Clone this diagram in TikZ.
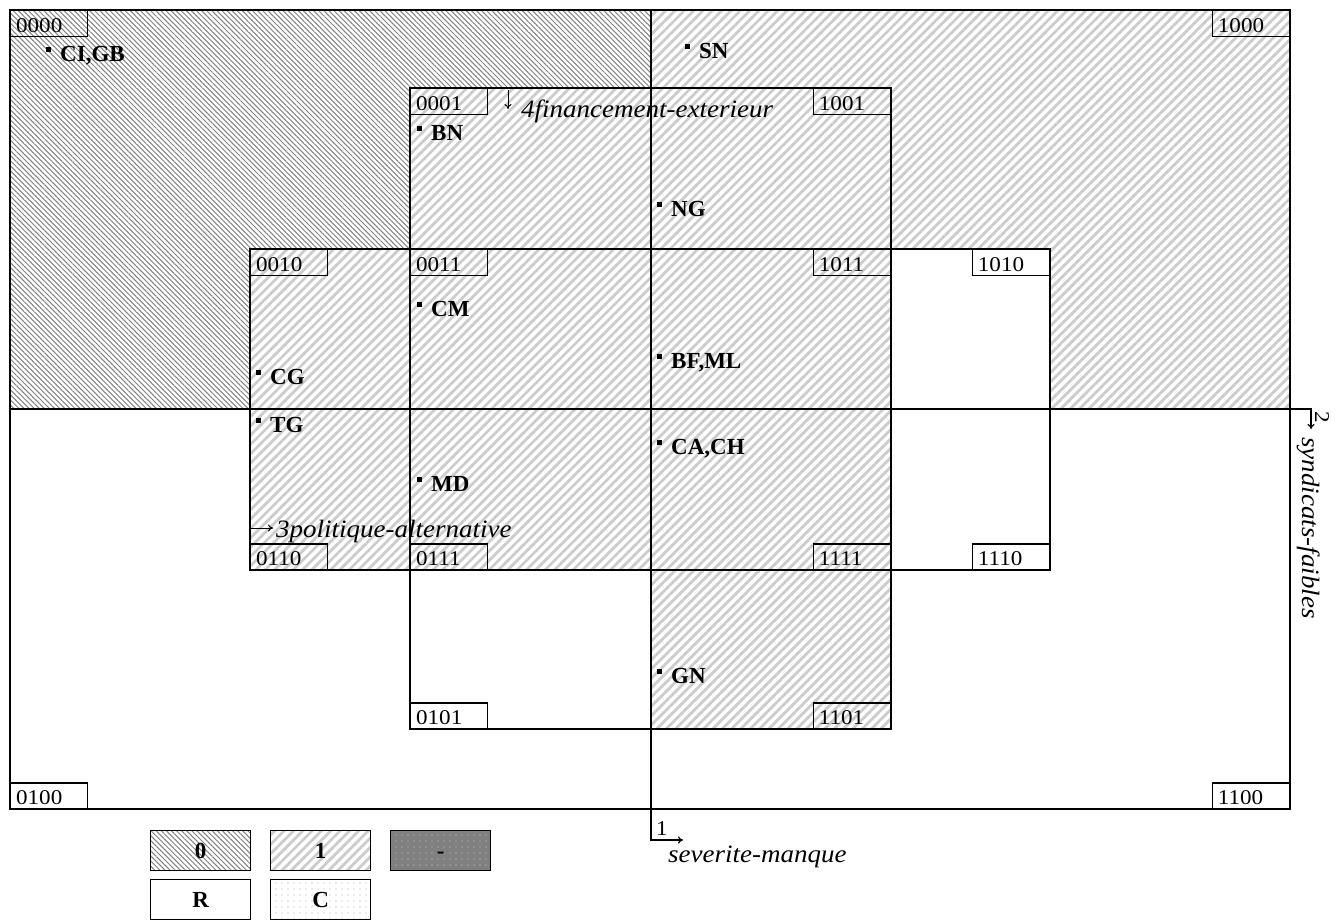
\documentclass[tikz,border=0pt]{standalone}
\usepackage{fontspec}
\setmainfont{Liberation Serif}
\newfontfamily\labfont{Liberation Serif}[FakeStretch=1.1]
\newfontfamily\itfont{Liberation Serif}[FakeStretch=1.08]
\usetikzlibrary{patterns.meta,arrows.meta}
\tikzset{
  edge/.style={line width=1.2pt, black},
  darkhatch/.style={pattern={Lines[angle=-45,distance=3.6pt,line width=1pt]}, pattern color=black!50},
  lighthatch/.style={pattern={Lines[angle=45,distance=6.6pt,line width=2.8pt]}, pattern color=black!20},
  cellbox/.style={draw, line width=1.2pt, minimum width=77pt, minimum height=25.5pt,
    text width=66pt, align=left, inner xsep=5pt, inner ysep=2.5pt,
    text height=19pt, text depth=1pt, font=\labfont\fontsize{21}{21}\selectfont},
  ptlabel/.style={anchor=base west, inner sep=0pt, font=\bfseries\fontsize{23}{23}\selectfont},
  axlabel/.style={anchor=base west, inner sep=0pt, font=\itfont\itshape\fontsize{25}{25}\selectfont},
  legbox/.style={draw, line width=1.2pt, minimum width=100pt, minimum height=40pt, inner sep=0pt,
    text height=15pt, text depth=0pt,
    anchor=north west, font=\bfseries\fontsize{23}{23}\selectfont},
  axarrow/.style={edge, -{To[length=5pt,width=7pt]}}
}
\newcommand{\bul}{\rule[9.5pt]{5pt}{5pt}\hspace{9pt}}
\begin{document}
\begin{tikzpicture}[x=1pt,y=-1pt]
\useasboundingbox (0,0) rectangle (1343,919);
% ---------- fills ----------
\fill[darkhatch] (10,10) -- (651,10) -- (651,88) -- (410,88) -- (410,249) -- (250,249) -- (250,409) -- (10,409) -- cycle;
\fill[lighthatch] (651,10) -- (1290,10) -- (1290,409) -- (1050,409) -- (1050,249) -- (891,249) -- (891,409) -- (651,409) -- cycle;
\fill[lighthatch] (410,88) -- (651,88) -- (651,409) -- (250,409) -- (250,249) -- (410,249) -- cycle;
\fill[lighthatch] (250,409) rectangle (651,570);
\fill[lighthatch] (651,409) rectangle (891,729);
% ---------- region outlines ----------
\draw[edge] (10,10) rectangle (1290,809);
\draw[edge] (250,249) rectangle (1050,570);
\draw[edge] (410,88) rectangle (891,729);
% ---------- axes ----------
\coordinate (v1) at (651,10);
\coordinate (v2) at (651,840);
\coordinate (v3) at (683,840);
\draw[axarrow] (v1) -- (v2) -- (v3);
\coordinate (h1) at (10,409);
\coordinate (h2) at (1311,409);
\coordinate (h3) at (1311,429);
\draw[axarrow] (h1) -- (h2) -- (h3);
\node[axlabel, font=\labfont\fontsize{21}{21}\selectfont] (ax1) at (656,835) {1};
\node[axlabel] (ax1t) at (668,862) {severite-manque};
\node[axlabel, rotate=-90, font=\labfont\fontsize{21}{21}\selectfont] (ax2) at (1315,411) {2};
\node[axlabel, rotate=-90] (ax2t) at (1302,437) {syndicats-faibles};
% variable 4 and 3 labels
\coordinate (a4s) at (508,90);
\coordinate (a4e) at (508,109);
\draw[axarrow, line width=1pt] (a4s) -- (a4e);
\node[axlabel] (ax4) at (521,117) {4financement-exterieur};
\coordinate (a3s) at (250,528);
\coordinate (a3e) at (273,528);
\draw[axarrow, line width=1pt] (a3s) -- (a3e);
\node[axlabel] (ax3) at (276,537) {3politique-alternative};
% ---------- cell id boxes ----------
\node[cellbox, anchor=north west] (c0000) at (10,10) {0000};
\node[cellbox, anchor=north east] (c1000) at (1290,10) {1000};
\node[cellbox, anchor=south west] (c0100) at (10,809) {0100};
\node[cellbox, anchor=south east] (c1100) at (1290,809) {1100};
\node[cellbox, anchor=north west] (c0001) at (410,88) {0001};
\node[cellbox, anchor=north east] (c1001) at (891,88) {1001};
\node[cellbox, anchor=south west] (c0101) at (410,729) {0101};
\node[cellbox, anchor=south east] (c1101) at (891,729) {1101};
\node[cellbox, anchor=north west] (c0010) at (250,249) {0010};
\node[cellbox, anchor=north west] (c0011) at (410,249) {0011};
\node[cellbox, anchor=north east] (c1011) at (891,249) {1011};
\node[cellbox, anchor=north east] (c1010) at (1050,249) {1010};
\node[cellbox, anchor=south west] (c0110) at (250,570) {0110};
\node[cellbox, anchor=south west] (c0111) at (410,570) {0111};
\node[cellbox, anchor=south east] (c1111) at (891,570) {1111};
\node[cellbox, anchor=south east] (c1110) at (1050,570) {1110};
% ---------- points ----------
\node[ptlabel] (pCIGB) at (46,61) {\bul CI,GB};
\node[ptlabel] (pSN) at (685,58) {\bul SN};
\node[ptlabel] (pBN) at (417,140) {\bul BN};
\node[ptlabel] (pNG) at (657,216) {\bul NG};
\node[ptlabel] (pCM) at (417,316) {\bul CM};
\node[ptlabel] (pCG) at (256,384) {\bul CG};
\node[ptlabel] (pBFML) at (657,368) {\bul BF,ML};
\node[ptlabel] (pTG) at (256,432) {\bul TG};
\node[ptlabel] (pCACH) at (657,454) {\bul CA,CH};
\node[ptlabel] (pMD) at (417,491) {\bul MD};
\node[ptlabel] (pGN) at (657,683) {\bul GN};
% ---------- legend ----------
\node[legbox, darkhatch] (l0) at (150,830) {0};
\node[legbox, lighthatch] (l1) at (270,830) {1};
\node[legbox, preaction={fill=black!50}, pattern={Dots[distance=6pt,radius=0.7pt]}, pattern color=black!20] (ldash) at (390,830) {-};
\node[legbox] (lR) at (150,879) {R};
\node[legbox, pattern={Dots[distance=6pt,radius=0.7pt]}, pattern color=black!35] (lC) at (270,879) {C};
\end{tikzpicture}
\end{document}
